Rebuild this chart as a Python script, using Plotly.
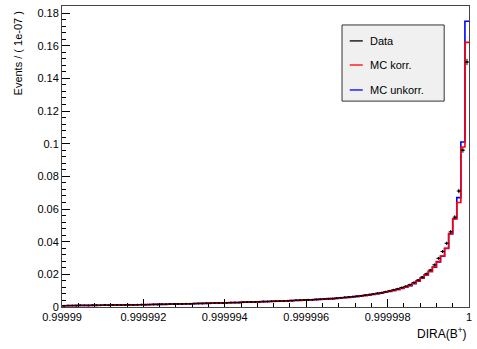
import numpy as np
import plotly.graph_objects as go

# DIRA(B+) histogram: 100 bins of width 1e-7 from 0.99999 to 1.0
x_lo = 0.99999
x_hi = 1.0
n_bins = 100

mc_korr = [
    0.0008, 0.0009, 0.0008, 0.0010, 0.0009, 0.0009, 0.0010, 0.0011, 0.0010, 0.0011,
    0.0011, 0.0012, 0.0011, 0.0012, 0.0013, 0.0012, 0.0013, 0.0014, 0.0013, 0.0014,
    0.0015, 0.0014, 0.0016, 0.0015, 0.0017, 0.0016, 0.0018, 0.0017, 0.0019, 0.0018,
    0.0020, 0.0019, 0.0021, 0.0022, 0.0021, 0.0023, 0.0024, 0.0023, 0.0025, 0.0026,
    0.0025, 0.0027, 0.0028, 0.0027, 0.0030, 0.0029, 0.0031, 0.0032, 0.0031, 0.0034,
    0.0033, 0.0035, 0.0036, 0.0035, 0.0038, 0.0037, 0.0040, 0.0041, 0.0040, 0.0043,
    0.0044, 0.0043, 0.0047, 0.0046, 0.0049, 0.0051, 0.0050, 0.0054, 0.0056, 0.0058,
    0.0060, 0.0063, 0.0065, 0.0068, 0.0071, 0.0074, 0.0078, 0.0082, 0.0086, 0.0091,
    0.0096, 0.0102, 0.0108, 0.0115, 0.0123, 0.0132, 0.0145, 0.0160, 0.0178, 0.0197,
    0.0218, 0.0245, 0.0278, 0.0312, 0.0360, 0.0450, 0.0540, 0.0640, 0.0980, 0.1620,
]

mc_unkorr = [
    0.0008, 0.0008, 0.0009, 0.0009, 0.0010, 0.0009, 0.0010, 0.0010, 0.0011, 0.0011,
    0.0012, 0.0011, 0.0012, 0.0012, 0.0012, 0.0013, 0.0013, 0.0013, 0.0014, 0.0014,
    0.0014, 0.0015, 0.0015, 0.0016, 0.0016, 0.0017, 0.0017, 0.0018, 0.0018, 0.0019,
    0.0019, 0.0020, 0.0020, 0.0021, 0.0022, 0.0022, 0.0023, 0.0024, 0.0024, 0.0025,
    0.0026, 0.0026, 0.0027, 0.0028, 0.0029, 0.0030, 0.0030, 0.0031, 0.0032, 0.0033,
    0.0034, 0.0034, 0.0035, 0.0036, 0.0037, 0.0038, 0.0039, 0.0040, 0.0041, 0.0042,
    0.0043, 0.0044, 0.0045, 0.0047, 0.0048, 0.0049, 0.0051, 0.0053, 0.0055, 0.0057,
    0.0059, 0.0061, 0.0064, 0.0067, 0.0070, 0.0073, 0.0077, 0.0081, 0.0085, 0.0090,
    0.0095, 0.0101, 0.0107, 0.0114, 0.0122, 0.0131, 0.0143, 0.0158, 0.0176, 0.0196,
    0.0217, 0.0243, 0.0276, 0.0311, 0.0358, 0.0448, 0.0540, 0.0670, 0.1010, 0.1750,
]

data = [
    0.0007, 0.0009, 0.0009, 0.0008, 0.0010, 0.0010, 0.0009, 0.0011, 0.0011, 0.0010,
    0.0012, 0.0011, 0.0012, 0.0013, 0.0012, 0.0013, 0.0014, 0.0013, 0.0014, 0.0015,
    0.0014, 0.0015, 0.0016, 0.0016, 0.0017, 0.0017, 0.0018, 0.0018, 0.0019, 0.0019,
    0.0020, 0.0020, 0.0021, 0.0021, 0.0022, 0.0023, 0.0023, 0.0024, 0.0025, 0.0025,
    0.0026, 0.0027, 0.0027, 0.0028, 0.0029, 0.0030, 0.0031, 0.0031, 0.0032, 0.0033,
    0.0034, 0.0035, 0.0035, 0.0036, 0.0037, 0.0038, 0.0039, 0.0041, 0.0042, 0.0043,
    0.0044, 0.0045, 0.0046, 0.0048, 0.0049, 0.0051, 0.0052, 0.0054, 0.0057, 0.0059,
    0.0061, 0.0064, 0.0066, 0.0069, 0.0072, 0.0076, 0.0080, 0.0084, 0.0088, 0.0093,
    0.0099, 0.0105, 0.0111, 0.0119, 0.0127, 0.0137, 0.0150, 0.0165, 0.0183, 0.0203,
    0.0226, 0.0258, 0.0298, 0.0340, 0.0390, 0.0460, 0.0550, 0.0710, 0.0960, 0.1500,
]

x_tickvals = [0.99999, 0.999992, 0.999994, 0.999996, 0.999998, 1.0]
x_ticktext = ["0.99999", "0.999992", "0.999994", "0.999996", "0.999998", "1"]
y_tickvals = [0, 0.02, 0.04, 0.06, 0.08, 0.1, 0.12, 0.14, 0.16, 0.18]
y_ticktext = ["0", "0.02", "0.04", "0.06", "0.08", "0.1", "0.12", "0.14", "0.16", "0.18"]

bin_w = (x_hi - x_lo) / n_bins
edges = x_lo + bin_w * np.arange(n_bins + 1)
centers = edges[:-1] + bin_w / 2
data_err = np.sqrt(np.array(data) * 2.5e-5)

FONT = "Liberation Sans, Arial, Helvetica, sans-serif"


def step_trace(values, color, name):
    y = list(values) + [values[-1]]
    return go.Scatter(
        x=edges, y=y, mode="lines", line=dict(color=color, width=1.6, shape="hv"),
        name=name, showlegend=False, hoverinfo="skip",
    )


fig = go.Figure()
fig.add_trace(step_trace(mc_unkorr, "#0000ff", "MC unkorr."))
fig.add_trace(step_trace(mc_korr, "#ff0000", "MC korr."))
fig.add_trace(go.Scatter(
    x=centers, y=data, mode="markers", name="Data", showlegend=False,
    marker=dict(color="black", size=2),
    error_x=dict(type="constant", value=bin_w / 2, color="black", thickness=1, width=0),
    error_y=dict(type="data", array=data_err, color="black", thickness=1, width=0),
))

fig.update_layout(
    width=477, height=349,
    margin=dict(l=62, r=5, t=6, b=42),
    paper_bgcolor="white", plot_bgcolor="white",
    font=dict(family=FONT, size=11, color="black"),
    showlegend=False,
)
fig.update_xaxes(
    range=[x_lo, x_hi], tickvals=x_tickvals, ticktext=x_ticktext,
    ticks="inside", ticklen=8, tickcolor="black",
    minor=dict(ticks="inside", ticklen=4, dtick=4e-7, tick0=x_lo, tickcolor="black"),
    showline=True, linecolor="#444", linewidth=1, mirror=True,
    showgrid=False, zeroline=False,
)
fig.update_yaxes(
    range=[0, 0.1843], tickvals=y_tickvals, ticktext=y_ticktext,
    ticks="inside", ticklen=8, tickcolor="black",
    minor=dict(ticks="inside", ticklen=4, dtick=0.004, tick0=0, tickcolor="black"),
    showline=True, linecolor="#444", linewidth=1, mirror=True,
    showgrid=False, zeroline=False,
)

# legend box
fig.add_shape(type="rect", xref="paper", yref="paper",
              x0=0.688, x1=0.939, y0=0.684, y1=0.937,
              fillcolor="#f0f0f0", line=dict(color="#333", width=1))
legend_rows = [("Data", "black", 0.884), ("MC korr.", "#ff0000", 0.804), ("MC unkorr.", "#0000ff", 0.721)]
for label, color, yp in legend_rows:
    fig.add_shape(type="line", xref="paper", yref="paper",
                  x0=0.707, x1=0.739, y0=yp, y1=yp, line=dict(color=color, width=1.3))
    fig.add_annotation(xref="paper", yref="paper", x=0.752, y=yp, text=label,
                       showarrow=False, xanchor="left", yanchor="middle",
                       font=dict(family=FONT, size=11, color="black"))

# axis titles
fig.add_annotation(xref="paper", yref="paper", x=1.0, y=-0.086, text="DIRA(B<sup>+</sup>)",
                   showarrow=False, xanchor="right", yanchor="middle",
                   font=dict(family=FONT, size=12, color="black"))
fig.add_annotation(xref="paper", yref="paper", x=-0.107, y=0.99, text="Events / ( 1e-07 )",
                   showarrow=False, textangle=-90, xanchor="center", yanchor="top",
                   font=dict(family=FONT, size=11, color="black"))

fig.write_html("out.html")
